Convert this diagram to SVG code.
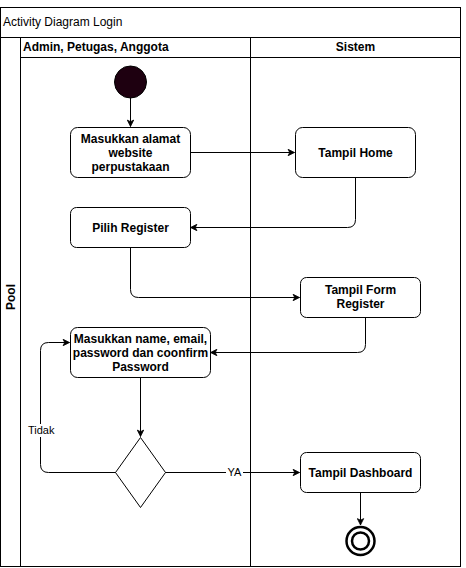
<svg xmlns="http://www.w3.org/2000/svg" width="466" height="568" viewBox="0 0 466 568">
<defs>
<marker id="arr" viewBox="0 0 10 10" refX="9" refY="5" markerWidth="8" markerHeight="8" markerUnits="userSpaceOnUse" orient="auto">
<path d="M1,1 L9,5 L1,9 L3,5 Z" fill="#000" stroke="#000" stroke-width="1"/>
</marker>
<style>
.frame{fill:#fff;stroke:#000;stroke-width:1}
.node{fill:#fff;stroke:#000;stroke-width:1}
.t{font-family:"Liberation Sans",Arial,sans-serif;font-size:12px;fill:#000}
.b{font-weight:bold}
.c{text-anchor:middle}
.edge{fill:none;stroke:#000;stroke-width:1;marker-end:url(#arr)}
.lbl{font-family:"Liberation Sans",Arial,sans-serif;font-size:11px;fill:#000}
</style>
</defs>
<rect width="466" height="568" fill="#fff"/>
<g id="pool">
<rect class="frame" x="0.5" y="7.5" width="460" height="559"/>
<line x1="0.5" y1="37.5" x2="460.5" y2="37.5" stroke="#000"/>
<line x1="20.5" y1="37.5" x2="20.5" y2="566.5" stroke="#000"/>
<line x1="20.5" y1="57.5" x2="460.5" y2="57.5" stroke="#000"/>
<line x1="250.5" y1="37.5" x2="250.5" y2="566.5" stroke="#000"/>
<text class="t" x="3" y="26">Activity Diagram Login</text>
<text class="t b" x="23" y="51">Admin, Petugas, Anggota</text>
<text class="t b c" x="355.5" y="51">Sistem</text>
<text class="t b c" transform="translate(14.5,297) rotate(-90)">Pool</text>
</g>
<g id="connectors">
<path class="edge" d="M130.5,98 L130.5,126.5"/>
<path class="edge" d="M190.5,152.5 L294.5,152.5"/>
<path class="edge" d="M355.5,177.5 L355.5,219.5 Q355.5,227.5 347.5,227.5 L190.5,227.5"/>
<path class="edge" d="M130.5,247.5 L130.5,289.5 Q130.5,297.5 138.5,297.5 L299.5,297.5"/>
<path class="edge" d="M365.5,317.5 L365.5,344.5 Q365.5,352.5 357.5,352.5 L210.5,352.5"/>
<path class="edge" d="M140.5,377.5 L140.5,436.5"/>
<path class="edge" d="M116,472.5 L48.5,472.5 Q40.5,472.5 40.5,464.5 L40.5,350.5 Q40.5,342.5 48.5,342.5 L69.5,342.5"/>
<path class="edge" d="M165,472.5 L299.5,472.5"/>
<path class="edge" d="M360.5,492.5 L360.5,525"/>
<rect x="226" y="465" width="17" height="14" fill="#fff"/>
<text class="lbl c" x="234.5" y="476">YA</text>
<rect x="27" y="424" width="29" height="13" fill="#fff"/>
<text class="lbl" x="28" y="434">Tidak</text>
</g>
<g id="start">
<circle cx="130.5" cy="82" r="16" fill="#1e0010" stroke="#000" stroke-width="1"/>
</g>
<g id="masukkan-alamat">
<rect class="node" x="70.5" y="127.5" width="120" height="50" rx="7"/>
<text class="t b c" x="130.5" y="143">Masukkan alamat</text>
<text class="t b c" x="130.5" y="157">website</text>
<text class="t b c" x="130.5" y="171">perpustakaan</text>
</g>
<g id="tampil-home">
<rect class="node" x="295.5" y="127.5" width="120" height="50" rx="7"/>
<text class="t b c" x="355.5" y="157">Tampil Home</text>
</g>
<g id="pilih-register">
<rect class="node" x="70.5" y="207.5" width="120" height="40" rx="6"/>
<text class="t b c" x="130.5" y="232">Pilih Register</text>
</g>
<g id="tampil-form">
<rect class="node" x="300.5" y="277.5" width="120" height="40" rx="6"/>
<text class="t b c" x="360.5" y="294">Tampil Form</text>
<text class="t b c" x="360.5" y="308">Register</text>
</g>
<g id="masukkan-name">
<rect class="node" x="70.5" y="327.5" width="140" height="50" rx="7"/>
<text class="t b c" x="140.5" y="343">Masukkan name, email,</text>
<text class="t b c" x="140.5" y="357">password dan coonfirm</text>
<text class="t b c" x="140.5" y="371">Password</text>
</g>
<g id="decision">
<path class="node" d="M140.5,437.5 L165.5,472.5 L140.5,507.5 L115.5,472.5 Z"/>
</g>
<g id="tampil-dashboard">
<rect class="node" x="300.5" y="452.5" width="120" height="40" rx="6"/>
<text class="t b c" x="360.5" y="477">Tampil Dashboard</text>
</g>
<g id="end">
<circle cx="360.5" cy="541" r="14" fill="#fff" stroke="#000" stroke-width="2.5"/>
<circle cx="360.5" cy="541" r="8.5" fill="#fff" stroke="#000" stroke-width="2.5"/>
</g>
</svg>
